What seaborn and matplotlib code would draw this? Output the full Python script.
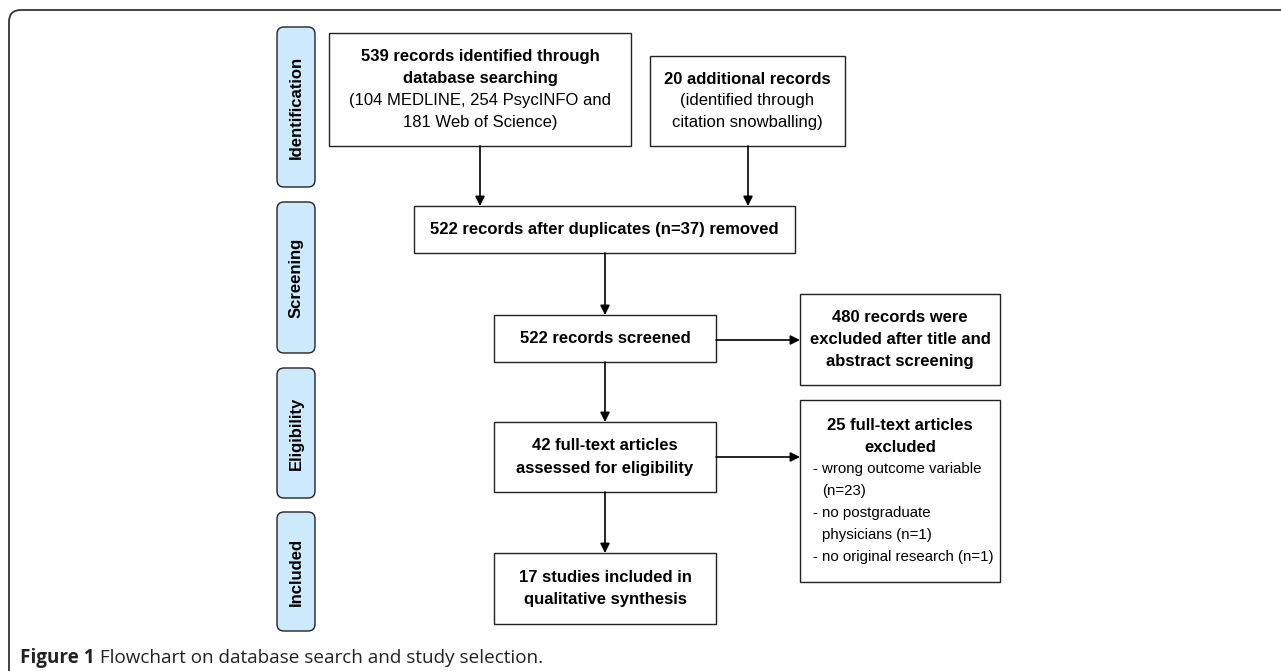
import matplotlib
matplotlib.use("Agg")
import matplotlib.pyplot as plt
from matplotlib.patches import Rectangle, FancyBboxPatch, PathPatch
from matplotlib.path import Path
import seaborn as sns

sns.set_theme(style="white")
plt.rcParams["font.family"] = ["Liberation Sans", "DejaVu Sans"]

# ---- data ----
phases = ["Identification", "Screening", "Eligibility", "Included"]
phase_top = [27, 202, 368, 512]
phase_bottom = [187, 353, 498, 631]

# box extents in pixels: left, top, right, bottom
box_names = ["db", "extra", "dedup", "screened", "excl1", "fulltext", "excl2", "included"]
box_left = [329, 650, 414, 494, 800, 494, 800, 494]
box_top = [33, 56, 206, 315, 294, 422, 400, 553]
box_right = [631, 845, 795, 716, 1000, 716, 1000, 716]
box_bottom = [146, 146, 253, 362, 385, 492, 582, 624]

db_lines = ["539 records identified through", "database searching",
            "(104 MEDLINE, 254 PsycINFO and", "181 Web of Science)"]
db_bold = [True, True, False, False]
extra_lines = ["20 additional records", "(identified through", "citation snowballing)"]
extra_bold = [True, False, False]
dedup_lines = ["522 records after duplicates (n=37) removed"]
screened_lines = ["522 records screened"]
excl1_lines = ["480 records were", "excluded after title and", "abstract screening"]
fulltext_lines = ["42 full-text articles", "assessed for eligibility"]
excl2_lines = ["25 full-text articles", "excluded", "- wrong outcome variable", "(n=23)",
               "- no postgraduate", "physicians (n=1)", "- no original research (n=1)"]
excl2_bold = [True, True, False, False, False, False, False]
excl2_indent = [None, None, 0, 1, 0, 1, 0]
included_lines = ["17 studies included in", "qualitative synthesis"]

box_text = {
    "db": (db_lines, db_bold),
    "extra": (extra_lines, extra_bold),
    "dedup": (dedup_lines, [True]),
    "screened": (screened_lines, [True]),
    "excl1": (excl1_lines, [True] * 3),
    "fulltext": (fulltext_lines, [True] * 2),
    "excl2": (excl2_lines, excl2_bold),
    "included": (included_lines, [True] * 2),
}

# arrows: x0, y0, x1, y1
arrows = [
    (480, 146, 480, 206),
    (748, 146, 748, 206),
    (605, 253, 605, 315),
    (605, 362, 605, 422),
    (605, 492, 605, 553),
    (716, 340, 800, 340),
    (716, 457, 800, 457),
]

caption_bold = "Figure 1"
caption_rest = " Flowchart on database search and study selection."

W, H = 1281, 671
fs = 12
line_gap = 22

fig = plt.figure(figsize=(W / 100, H / 100), dpi=100)
ax = fig.add_axes([0, 0, 1, 1])
ax.set_xlim(0, W)
ax.set_ylim(H, 0)
ax.axis("off")

# outer frame (top and left edges with rounded corner)
r = 12
frame = Path([(9, H), (9, 10 + r), (9, 10), (9 + r, 10), (W, 10)],
             [Path.MOVETO, Path.LINETO, Path.CURVE3, Path.CURVE3, Path.LINETO])
ax.add_patch(PathPatch(frame, fill=False, edgecolor="#333333", lw=1.3))

# phase labels
for name, t, b in zip(phases, phase_top, phase_bottom):
    ax.add_patch(FancyBboxPatch((277, t), 38, b - t,
                                boxstyle="round,pad=0,rounding_size=7",
                                facecolor="#cde9fc", edgecolor="#222222", lw=1.0))
    ax.text(296, (t + b) / 2, name, rotation=90, ha="center", va="center",
            fontsize=fs, fontweight="bold", color="black")

# boxes
for i, key in enumerate(box_names):
    l, t, rr, b = box_left[i], box_top[i], box_right[i], box_bottom[i]
    ax.add_patch(Rectangle((l, t), rr - l, b - t, facecolor="white",
                           edgecolor="#222222", lw=1.0))
    lines, bold = box_text[key]
    n = len(lines)
    cy = (t + b) / 2
    for j, txt in enumerate(lines):
        y = cy + (j - (n - 1) / 2) * line_gap
        w = "bold" if bold[j] else "normal"
        if key == "excl2" and excl2_indent[j] is not None:
            x = l + 13 + excl2_indent[j] * 9
            ax.text(x, y, txt, ha="left", va="center", fontsize=10.8,
                    fontweight=w, color="black")
        else:
            ax.text((l + rr) / 2, y, txt, ha="center", va="center",
                    fontsize=fs, fontweight=w, color="black")

# arrows
for x0, y0, x1, y1 in arrows:
    ax.annotate("", xy=(x1, y1), xytext=(x0, y0),
                arrowprops=dict(arrowstyle="-|>", color="black", lw=1.2,
                                shrinkA=0, shrinkB=0, mutation_scale=14))

# caption
t1 = ax.text(20, 658, caption_bold, ha="left", va="center", fontsize=13.6,
             fontweight="bold", family=["Open Sans", "DejaVu Sans"], color="#222222")
fig.canvas.draw()
bb = t1.get_window_extent(renderer=fig.canvas.get_renderer())
x_end = ax.transData.inverted().transform((bb.x1, bb.y0))[0]
ax.text(x_end, 658, caption_rest, ha="left", va="center", fontsize=13.6,
        family=["Open Sans", "DejaVu Sans"], color="#222222")

fig.savefig("out.png", dpi=100)
